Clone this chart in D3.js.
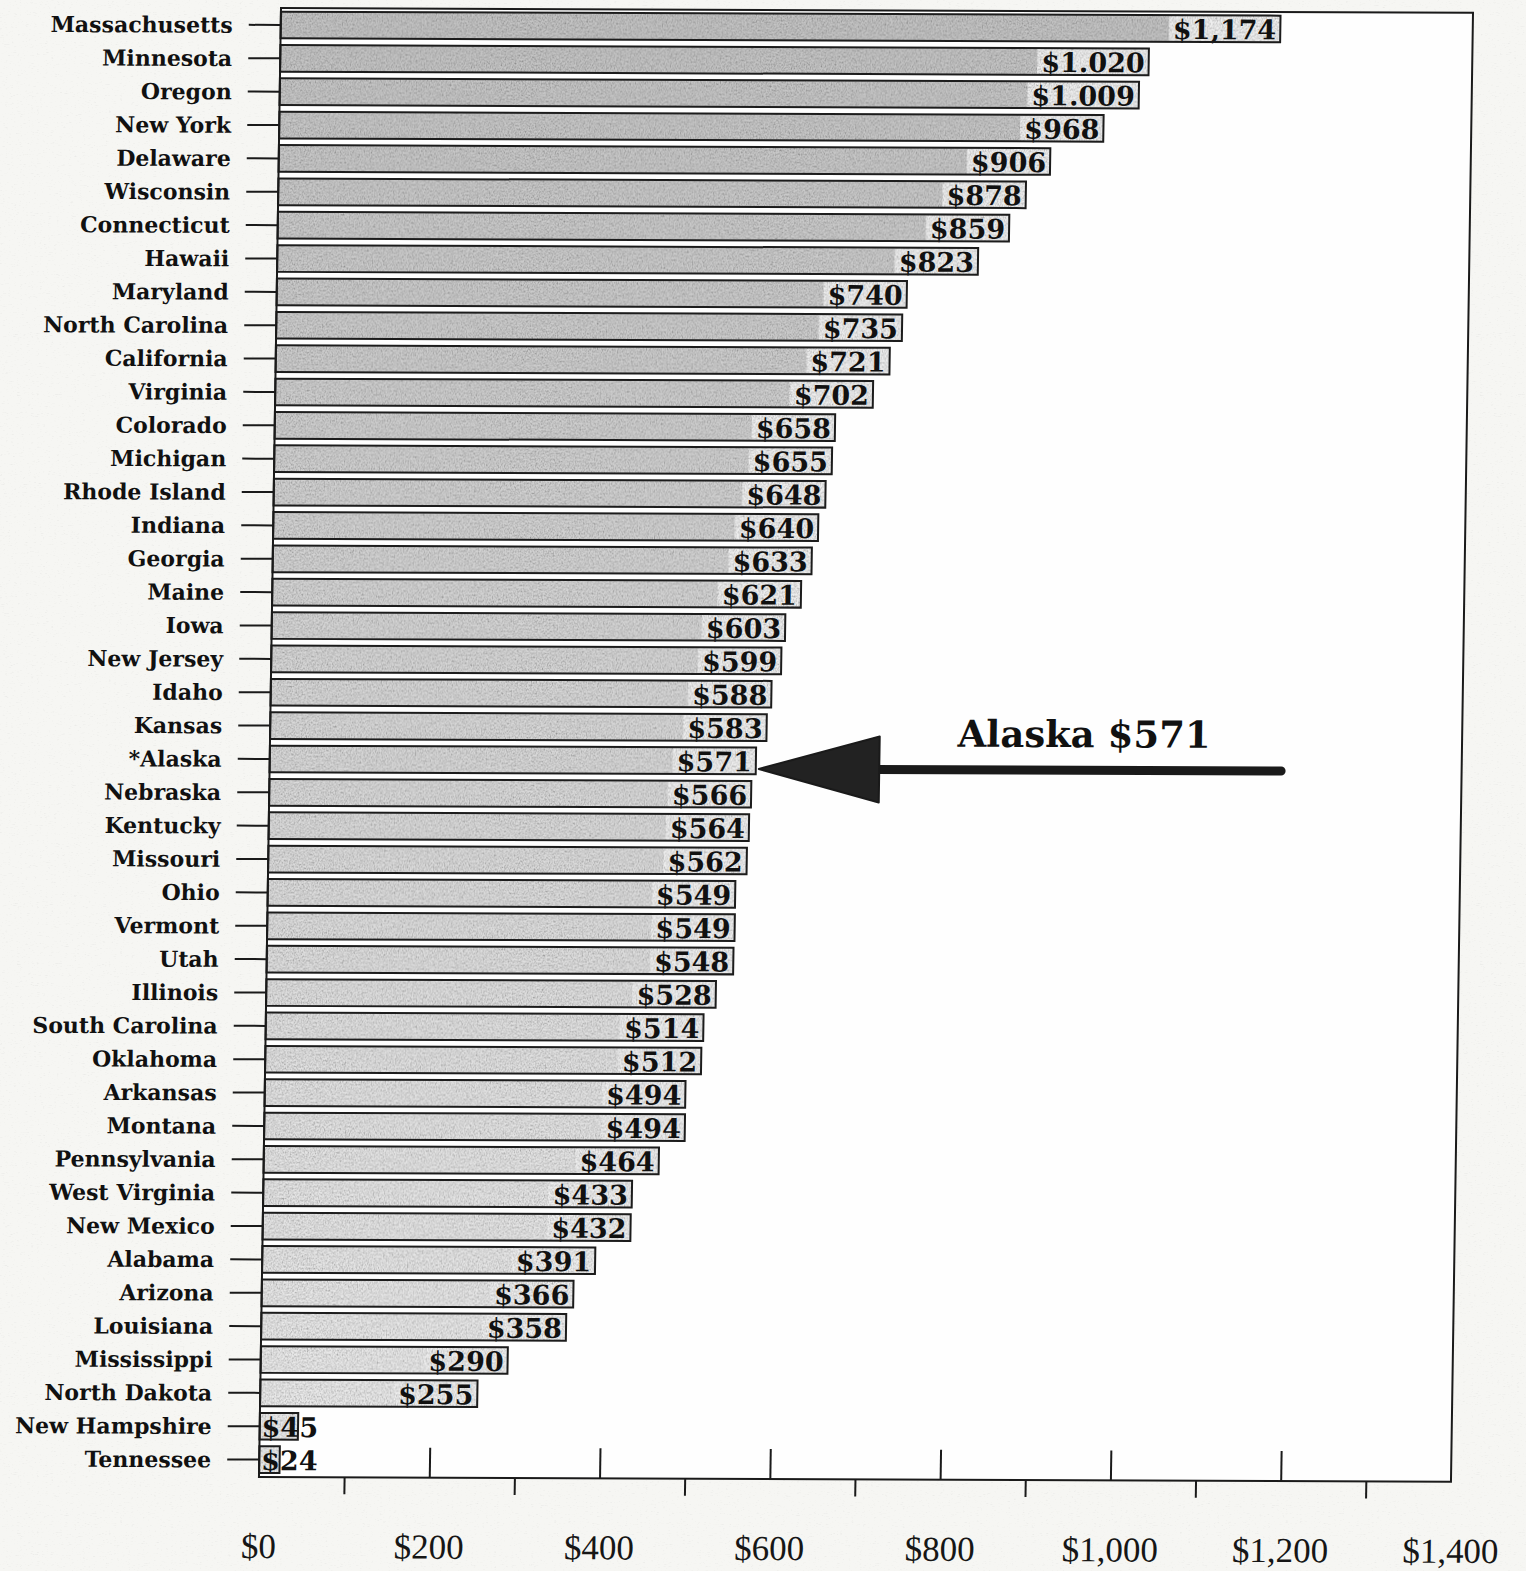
<!DOCTYPE html>
<html>
<head>
<meta charset="utf-8">
<script src="https://cdn.jsdelivr.net/npm/d3@7"></script>
<style>
  html, body { margin: 0; padding: 0; background: #ebebe8; }
  svg { display: block; }
</style>
</head>
<body>
<svg id="chart" width="1526" height="1571"></svg>
<script>
// Per-pupil spending by state, ranked high to low
const states = [
  "Massachusetts", "Minnesota", "Oregon", "New York", "Delaware", "Wisconsin",
  "Connecticut", "Hawaii", "Maryland", "North Carolina", "California", "Virginia",
  "Colorado", "Michigan", "Rhode Island", "Indiana", "Georgia", "Maine", "Iowa",
  "New Jersey", "Idaho", "Kansas", "*Alaska", "Nebraska", "Kentucky", "Missouri",
  "Ohio", "Vermont", "Utah", "Illinois", "South Carolina", "Oklahoma", "Arkansas",
  "Montana", "Pennsylvania", "West Virginia", "New Mexico", "Alabama", "Arizona",
  "Louisiana", "Mississippi", "North Dakota", "New Hampshire", "Tennessee"
];
const spending = [
  1174, 1020, 1009, 968, 906, 878,
  859, 823, 740, 735, 721, 702,
  658, 655, 648, 640, 633, 621, 603,
  599, 588, 583, 571, 566, 564, 562,
  549, 549, 548, 528, 514, 512, 494,
  494, 464, 433, 432, 391, 366,
  358, 290, 255, 45, 24
];
const majorTicks = [0, 200, 400, 600, 800, 1000, 1200, 1400];
const minorTicks = [100, 300, 500, 700, 900, 1100, 1300];
const highlightState = "*Alaska";
const highlightText = "Alaska $571";
// annotation anchors, in dollars along the x axis
const arrowBaseValue = 716;
const arrowTailValue = 1188;
const calloutCenterValue = 956;

const data = states.map((s, i) => ({ state: s, value: spending[i] }));

const svg = d3.select("#chart");
const W = 1526, H = 1571;
const plotL = 281, plotR = 1473, plotT = 8, plotB = 1477;

const defs = svg.append("defs");

// grainy print texture
const grain = defs.append("filter").attr("id", "grain")
  .attr("x", 0).attr("y", 0).attr("width", "100%").attr("height", "100%");
grain.append("feTurbulence").attr("type", "fractalNoise")
  .attr("baseFrequency", "0.8 0.5").attr("numOctaves", 2).attr("seed", 7).attr("result", "noise");
grain.append("feColorMatrix").attr("in", "noise").attr("type", "matrix")
  .attr("values", "0.6 0.6 0.6 0 -0.05  0.6 0.6 0.6 0 -0.05  0.6 0.6 0.6 0 -0.05  0 0 0 0 1")
  .attr("result", "gray");
grain.append("feBlend").attr("in", "SourceGraphic").attr("in2", "gray").attr("mode", "multiply").attr("result", "mix");
grain.append("feComposite").attr("in", "mix").attr("in2", "SourceGraphic").attr("operator", "in");

const paper = defs.append("filter").attr("id", "paper")
  .attr("x", 0).attr("y", 0).attr("width", "100%").attr("height", "100%");
paper.append("feTurbulence").attr("type", "fractalNoise")
  .attr("baseFrequency", "0.35 0.9").attr("numOctaves", 2).attr("seed", 3).attr("result", "noise");
paper.append("feColorMatrix").attr("in", "noise").attr("type", "matrix")
  .attr("values", "0.15 0.15 0.15 0 0.8  0.15 0.15 0.15 0 0.8  0.15 0.15 0.15 0 0.8  0 0 0 0 1")
  .attr("result", "gray");
paper.append("feBlend").attr("in", "SourceGraphic").attr("in2", "gray").attr("mode", "multiply").attr("result", "mix");
paper.append("feComposite").attr("in", "mix").attr("in2", "SourceGraphic").attr("operator", "in");

svg.append("rect").attr("width", W).attr("height", H).attr("fill", "#f6f6f3").attr("filter", "url(#paper)");

// the printed page sits slightly askew
const g = svg.append("g")
  .attr("transform", `translate(${plotL},${plotT}) matrix(1,0.004,-0.015,1,0,0) translate(${-plotL},${-plotT})`);

const x = d3.scaleLinear().domain([0, 1400]).range([plotL, plotR]);
const y = d3.scaleBand().domain(states).range([plotT + 0.3, plotB - 0.7]).paddingInner(0.2).paddingOuter(0.1);
const shade = d3.scaleLinear().domain([0, states.length - 1]).range(["#c4c4c4", "#ececec"]);

// plot area
g.append("rect").attr("x", plotL).attr("y", plotT).attr("width", plotR - plotL).attr("height", plotB - plotT)
  .attr("fill", "#fefefe");

// bars
const bars = g.append("g").selectAll("g").data(data).join("g");
bars.append("rect")
  .attr("x", x(0)).attr("y", d => y(d.state))
  .attr("width", d => x(d.value) - x(0)).attr("height", y.bandwidth())
  .attr("fill", (d, i) => shade(i))
  .attr("filter", "url(#grain)");

// value labels
const fontSerif = "'DejaVu Serif', 'Liberation Serif', serif";
const labels = bars.append("text")
  .attr("font-family", fontSerif).attr("font-weight", "bold").attr("font-size", 27)
  .attr("fill", "#111")
  .attr("y", d => y(d.state) + y.bandwidth() / 2 + 10.5)
  .text(d => "$" + d3.format(",")(d.value).replace(/,/g, d.value === 1174 ? "," : "."));

labels.each(function(d) {
  const w = this.getComputedTextLength();
  const barW = x(d.value) - x(0);
  const t = d3.select(this);
  if (barW > w + 8) {
    t.attr("x", x(d.value) - 4).attr("text-anchor", "end");
    d3.select(this.parentNode).insert("rect", "text")
      .attr("x", x(d.value) - w - 8).attr("y", y(d.state) + 1)
      .attr("width", w + 8).attr("height", y.bandwidth() - 2)
      .attr("fill", "#f0f0f0").attr("filter", "url(#grain)");
  } else {
    t.attr("x", x(0) + 2).attr("text-anchor", "start");
  }
});

// bar outlines
bars.append("rect")
  .attr("x", x(0)).attr("y", d => y(d.state))
  .attr("width", d => x(d.value) - x(0)).attr("height", y.bandwidth())
  .attr("fill", "none").attr("stroke", "#1c1c1c").attr("stroke-width", 2);

// frame
g.append("rect").attr("x", plotL).attr("y", plotT).attr("width", plotR - plotL).attr("height", plotB - plotT)
  .attr("fill", "none").attr("stroke", "#1a1a1a").attr("stroke-width", 2);

// category axis
const yAxis = g.append("g").attr("transform", `translate(${plotL},0)`)
  .call(d3.axisLeft(y).tickSize(32).tickPadding(16));
yAxis.select(".domain").remove();
yAxis.selectAll("line").attr("stroke", "#1a1a1a").attr("stroke-width", 2);
yAxis.selectAll("text")
  .attr("font-family", fontSerif).attr("font-weight", "bold").attr("font-size", 22)
  .attr("fill", "#111").attr("dy", "0.36em");

// value axis: labelled ticks rise into the plot, half-steps hang below
const xMajor = g.append("g").attr("transform", `translate(0,${plotB})`)
  .call(d3.axisTop(x).tickValues(majorTicks.filter(v => v > 0 && v < 1400)).tickSize(30).tickFormat(""));
xMajor.select(".domain").remove();
xMajor.selectAll("line").attr("stroke", "#1a1a1a").attr("stroke-width", 2);

const xMinor = g.append("g").attr("transform", `translate(0,${plotB})`)
  .call(d3.axisBottom(x).tickValues(minorTicks).tickSize(17).tickFormat(""));
xMinor.select(".domain").remove();
xMinor.selectAll("line").attr("stroke", "#1a1a1a").attr("stroke-width", 2);

const xLabels = g.append("g").attr("transform", `translate(0,${plotB})`)
  .call(d3.axisBottom(x).tickValues(majorTicks).tickSize(0).tickPadding(0)
    .tickFormat(d => "$" + d3.format(",")(d)));
xLabels.select(".domain").remove();
xLabels.selectAll("text")
  .attr("font-family", "'Liberation Serif', 'DejaVu Serif', serif").attr("font-size", 35)
  .attr("fill", "#161616").attr("y", 81).attr("dy", 0);

// callout
const hy = y(highlightState) + y.bandwidth() / 2 + 8;
const tip = x(spending[states.indexOf(highlightState)]) + 3;
g.append("line")
  .attr("x1", x(arrowBaseValue) - 4).attr("x2", x(arrowTailValue))
  .attr("y1", hy).attr("y2", hy)
  .attr("stroke", "#1a1a1a").attr("stroke-width", 9).attr("stroke-linecap", "round");
g.append("path")
  .attr("d", `M${tip},${hy} L${x(arrowBaseValue)},${hy - 33} L${x(arrowBaseValue)},${hy + 33} Z`)
  .attr("fill", "#222").attr("stroke", "#1a1a1a").attr("stroke-width", 2).attr("stroke-linejoin", "round");
g.append("text")
  .attr("x", x(calloutCenterValue)).attr("y", hy - 23)
  .attr("text-anchor", "middle")
  .attr("font-family", fontSerif).attr("font-weight", "bold").attr("font-size", 37)
  .attr("fill", "#111")
  .text(highlightText);
</script>
</body>
</html>
